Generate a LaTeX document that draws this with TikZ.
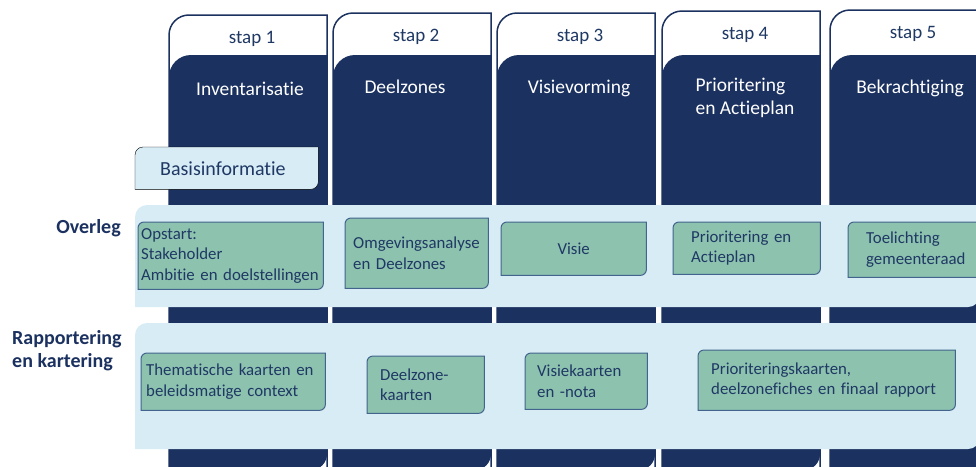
\documentclass[tikz,border=0pt]{standalone}
\usepackage{fontspec}
\setmainfont{Carlito}[Ligatures=NoCommon]
\usetikzlibrary{positioning}

\definecolor{navy}{HTML}{1B3160}
\definecolor{bandblue}{HTML}{D7ECF5}
\definecolor{boxgreen}{HTML}{8DC2AF}
\definecolor{boxline}{HTML}{43648C}
\definecolor{inktext}{HTML}{1F3864}

\pgfdeclarelayer{base}
\pgfdeclarelayer{frames}
\pgfsetlayers{base,frames,main}

% frame with rounded top left and bottom right corners behind a node
\newcommand{\diagframe}[3][6pt]{%
  \begin{pgfonlayer}{frames}
    \filldraw[#3] (#2.south west) [rounded corners=#1] -- (#2.north west) [sharp corners]
      -- (#2.north east) [rounded corners=#1] -- (#2.south east) [sharp corners] -- cycle;
  \end{pgfonlayer}}

\begin{document}
\begin{tikzpicture}[x=1pt,y=-1pt,
  stap/.style={anchor=base,text=inktext,font=\fontsize{19}{23}\selectfont,inner sep=0pt},
  head/.style={anchor=base,text=white,align=left,font=\fontsize{19.5}{23}\selectfont,inner sep=0pt},
  rowlabel/.style={text=navy,font=\bfseries\fontsize{20}{23}\selectfont,inner sep=0pt},
  gbox/.style={anchor=north west,align=left,text=inktext,inner ysep=0pt,
    font=\fontsize{16.8}{20.5}\selectfont},
  gframe/.style={fill=boxgreen,draw=boxline,line width=1pt},
  band/.style={fill=bandblue}]
\useasboundingbox (0,0) rectangle (976,466);

% the five steps
\foreach \x/\t/\n/\hx/\hy/\h in {169/15/1/250/95/Inventarisatie,
    333/13/2/405/93/Deelzones, 497/13/3/579/93/Visievorming,
    662/11/4/745/114/{Prioritering\\en Actieplan}, 830/10/5/910/93/Bekrachtiging} {
  \begin{pgfonlayer}{base}
    \filldraw[fill=white,draw=navy,line width=1.5pt] (\x,470) [rounded corners=20pt]
      -- (\x,\t) [sharp corners] -- (\x+158,\t) -- (\x+158,470) -- cycle;
    \fill[navy] (\x,470) [rounded corners=22pt] -- (\x,55) [sharp corners]
      -- (\x+158,55) [rounded corners=16pt] -- (\x+158,470) [sharp corners] -- cycle;
  \end{pgfonlayer}
  \node[stap] (stap\n) at (\x+83,\t+28) {stap \n};
  \node[head] (head\n) at (\hx,\hy) {\h};
}

% bands
\begin{pgfonlayer}{base}
  \fill[band] (135,307) [rounded corners=12pt] -- (135,205) [sharp corners]
    -- (980,205) [rounded corners=12pt] -- (980,307) [sharp corners] -- cycle;
  \fill[band] (135,449) [rounded corners=12pt] -- (135,323) [sharp corners]
    -- (980,323) [rounded corners=12pt] -- (980,449) [sharp corners] -- cycle;
\end{pgfonlayer}

\node[gbox,text=inktext,font=\fontsize{20}{23}\selectfont,inner xsep=25pt,
  text width=133pt,minimum height=42pt] (basis) at (135,147) {Basisinformatie};
\diagframe[8pt]{basis}{fill=bandblue}

\node[rowlabel,anchor=east] (overleg) at (121,228) {Overleg};
\node[rowlabel,anchor=west,align=left] (rapport) at (12,351) {Rapportering\\en kartering};

% overleg
\node[gbox,inner xsep=3pt,text width=179pt,minimum height=67pt] (ov1) at (138,222)
  {Opstart:\\Stakeholder\\Ambitie en doelstellingen};
\node[gbox,inner xsep=8pt,text width=127pt,minimum height=70pt] (ov2) at (345,218)
  {Omgevingsanalyse\\en Deelzones};
\node[gbox,align=center,inner xsep=3pt,text width=139pt,minimum height=53pt] (ov3) at (501,222)
  {Visie};
\node[gbox,inner xsep=18pt,text width=111pt,minimum height=52pt] (ov4) at (673,222)
  {Prioritering en\\Actieplan};
\node[gbox,inner xsep=18pt,text width=110pt,minimum height=55pt] (ov5) at (848,222)
  {Toelichting\\gemeenteraad};
\foreach \b in {ov1,ov2,ov3,ov4,ov5} {\diagframe{\b}{gframe}}

% rapportering en kartering
\node[gbox,inner xsep=5pt,text width=174pt,minimum height=57pt] (rk1) at (141,353)
  {Thematische kaarten en\\beleidsmatige context};
\node[gbox,inner xsep=13pt,text width=91pt,minimum height=57pt] (rk2) at (367,356)
  {Deelzone-\\kaarten};
\node[gbox,inner xsep=12pt,text width=98pt,minimum height=56pt] (rk3) at (525,353)
  {Visiekaarten\\en -nota};
\node[gbox,inner xsep=13pt,text width=231pt,minimum height=60pt] (rk4) at (698,350)
  {Prioriteringskaarten,\\deelzonefiches en finaal rapport};
\foreach \b in {rk1,rk2,rk3,rk4} {\diagframe{\b}{gframe}}
\end{tikzpicture}
\end{document}
